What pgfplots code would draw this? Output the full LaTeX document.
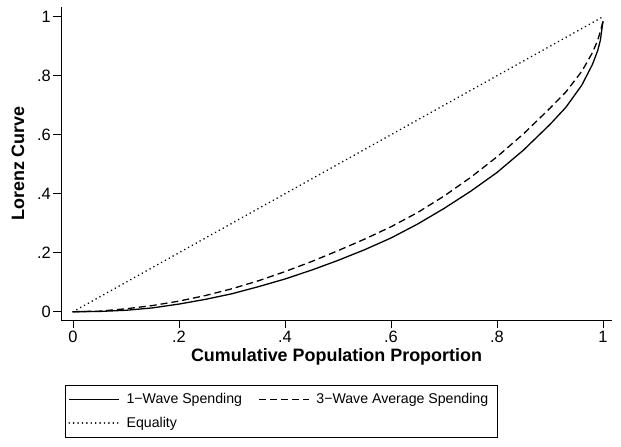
\documentclass[border=0pt]{standalone}
\usepackage{fontspec}
\setmainfont{Liberation Sans}
\usepackage{pgfplots}
\pgfplotsset{compat=1.18}
\begin{document}
\begin{tikzpicture}
\useasboundingbox (0bp,0bp) rectangle (621bp,447bp);
\begin{axis}[
  at={(61bp,127bp)}, anchor=south west,
  scale only axis, width=551bp, height=313bp,
  xmin=-0.0226, xmax=1.017, ymin=-0.028, ymax=1.033,
  axis x line*=bottom, axis y line*=left,
  axis line style={line width=0.8bp, -},
  xtick={0,0.2,0.4,0.6,0.8,1}, xticklabels={0,.2,.4,.6,.8,1},
  ytick={0,0.2,0.4,0.6,0.8,1}, yticklabels={0,.2,.4,.6,.8,1},
  tick align=outside, major tick length=8bp,
  tick style={line width=0.8bp, black},
  ticklabel style={font=\fontsize{16.5}{19}\selectfont},
  yticklabel style={inner sep=2bp},
  xticklabel style={inner sep=3bp},
  xlabel={Cumulative Population Proportion}, ylabel={Lorenz Curve},
  label style={font=\bfseries\fontsize{18}{21}\selectfont},
  xlabel style={at={(axis description cs:0.5,-0.118)}, anchor=center},
  ylabel style={at={(axis description cs:-0.078,0.5)}, anchor=center},
  legend columns=2,
  legend cell align=left,
  legend style={at={(axis description cs:0.0073,-0.208)}, anchor=north west,
    draw=black, line width=0.6bp, font=\fontsize{14.2}{17}\selectfont,
    inner xsep=3bp, inner ysep=6bp, row sep=8bp,
    nodes={inner xsep=6.5bp},
    /tikz/every even column/.append style={column sep=10bp}},
  legend image code/.code={\draw[#1] (0bp,0bp) -- (50bp,0bp);},
]
\addplot[black, line width=1.3bp] table {
x y
0 0
0.05 0.001
0.1 0.005
0.15 0.013
0.2 0.026
0.25 0.042
0.3 0.061
0.35 0.085
0.4 0.111
0.45 0.141
0.5 0.174
0.55 0.21
0.6 0.25
0.65 0.297
0.7 0.35
0.75 0.408
0.8 0.472
0.85 0.548
0.9 0.635
0.93 0.693
0.96 0.768
0.98 0.838
0.99 0.885
0.995 0.92
1 0.985
};
\addlegendentry{1−Wave Spending}
\addplot[black, line width=1.3bp, dash pattern=on 7bp off 4bp] table {
x y
0 0
0.05 0.002
0.1 0.01
0.15 0.021
0.2 0.036
0.25 0.055
0.3 0.078
0.35 0.105
0.4 0.136
0.45 0.17
0.5 0.207
0.55 0.246
0.6 0.288
0.65 0.336
0.7 0.392
0.75 0.455
0.8 0.525
0.85 0.603
0.9 0.69
0.93 0.745
0.96 0.815
0.98 0.878
0.99 0.92
0.995 0.95
1 0.985
};
\addlegendentry{3−Wave Average Spending}
\addplot[black, line width=1.8bp, line cap=round, dash pattern=on 0.01bp off 4.4bp] table {
x y
0 0
1 1
};
\addlegendentry{Equality}
\end{axis}
\end{tikzpicture}
\end{document}
